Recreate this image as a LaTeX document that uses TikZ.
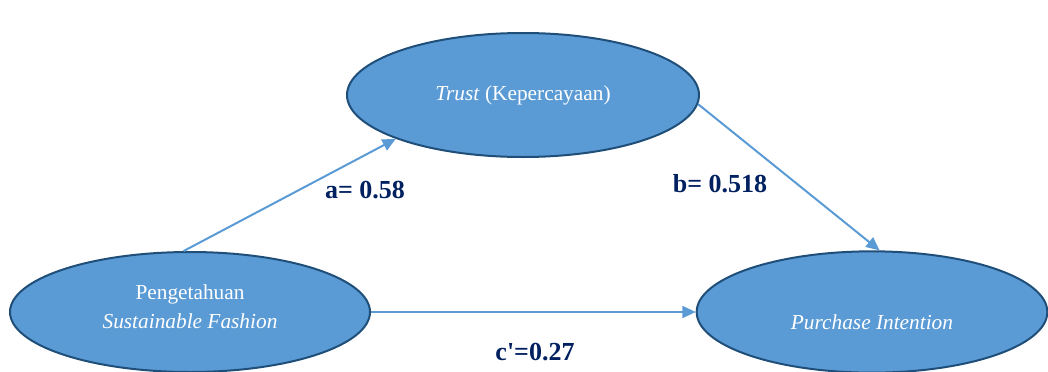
\documentclass[tikz,border=0pt]{standalone}
\usepackage{fontspec}
\setmainfont{Liberation Serif}
\usetikzlibrary{shapes.geometric,arrows.meta}
\definecolor{bleu}{HTML}{5B9BD5}
\definecolor{bord}{HTML}{1F4E79}
\definecolor{marine}{HTML}{002060}
\begin{document}
\begin{tikzpicture}[
    x=0.75pt, y=-0.75pt,   % unités en pixels de l'image
    % Réglages des ellipses
    varellipse/.style={ellipse, draw=bord, fill=bleu, line width=1.5pt,
        text=white, align=center, inner sep=0pt,
        font=\fontsize{16}{22}\selectfont},
    lien/.style={draw=bleu, line width=1.5pt, -{Triangle[length=10pt,width=9pt]}}, % flèche
    coef/.style={text=marine, font=\fontsize{19.5}{23}\selectfont\bfseries}
]
\useasboundingbox (0,0) rectangle (1048,371);
% Variables
\node[varellipse, minimum width=264pt, minimum height=93pt] (trust) at (523,95)
    {\textit{Trust} (Kepercayaan)};
\node[varellipse, minimum width=270pt, minimum height=90pt] (pengetahuan) at (190,312)
    {\raisebox{-1.5pt}[0pt][0pt]{Pengetahuan}\\\raisebox{-1.5pt}[0pt][0pt]{\textit{Sustainable Fashion}}};
\node[varellipse, minimum width=263pt, minimum height=91pt] (purchase) at (872,312)
    {\raisebox{-13pt}[0pt][0pt]{\textit{Purchase Intention}}};
% Chemins
\draw[lien] (pengetahuan.96) -- (trust.199);
\draw[lien] (trust.357) -- (purchase.83);
\draw[lien] (pengetahuan.east) -- (purchase.west);
% Coefficients
\node[coef] (a) at (365,190) {a= 0.58};
\node[coef] (b) at (720,184) {b= 0.518};
\node[coef] (c) at (535,352) {c\textquotesingle=0.27};
\end{tikzpicture}
\end{document}
